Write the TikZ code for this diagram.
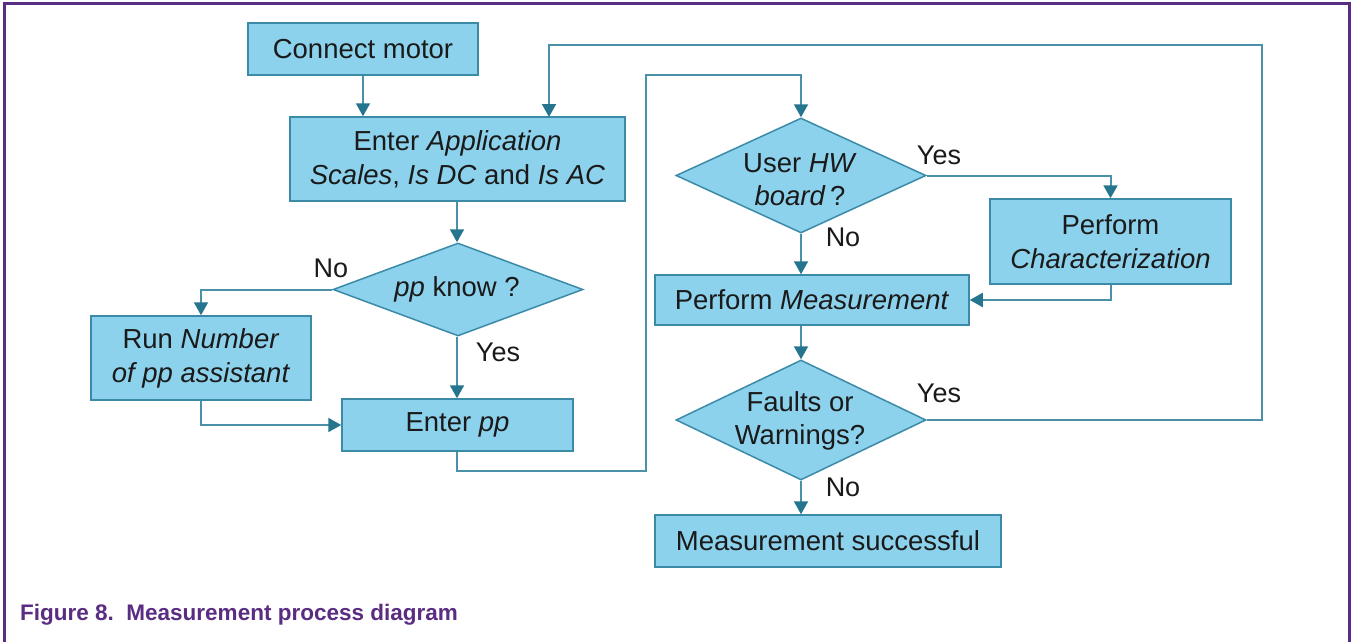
\documentclass[tikz,border=0pt]{standalone}
\usepackage{fontspec}
\setmainfont{Liberation Sans}
\usetikzlibrary{arrows.meta,shapes.geometric}
\definecolor{boxfill}{HTML}{8DD2EC}
\definecolor{boxline}{HTML}{3B8BA8}
\definecolor{connline}{HTML}{4A90A8}
\definecolor{tipcol}{HTML}{26758F}
\definecolor{frame}{HTML}{5A2D82}
\definecolor{txt}{HTML}{1A1A1A}
\tikzset{
  box/.style={draw=boxline, fill=boxfill, line width=1.5pt, rectangle, inner sep=0pt,
    align=center, text=txt, font=\fontsize{27.5}{34}\selectfont},
  dec/.style={draw=boxline, fill=boxfill, line width=1.5pt, diamond, inner sep=0pt},
  dectext/.style={align=center, text=txt, inner sep=0pt, font=\fontsize{27.5}{33}\selectfont},
  lbl/.style={text=txt, inner sep=0pt, font=\fontsize{27}{32}\selectfont},
  conn/.style={draw=connline, line width=2pt,
    -{Triangle[width=14pt,length=13pt,color=tipcol]}},
}
\begin{document}
\begin{tikzpicture}[x=1pt,y=-1pt]
\useasboundingbox (0,0) rectangle (1352,642);
\fill[white] (0,0) rectangle (1352,642);
\draw[frame, line width=3pt] (4,642) -- (4,4) -- (1349,4) -- (1349,642);

% boxes
\node[box, minimum width=230, minimum height=52] (cm) at (363,49) {Connect motor};
\node[box, minimum width=335, minimum height=84] (eas) at (457.5,159) {Enter \textit{Application}\\\textit{Scales}, \textit{Is DC} and \textit{Is AC}};
\node[box, minimum width=220, minimum height=84] (run) at (201,358) {Run \textit{Number}\\\textit{of pp assistant}};
\node[box, minimum width=231, minimum height=52] (epp) at (457.5,425) {Enter \textit{pp}};
\node[box, minimum width=241, minimum height=85] (pc) at (1110.5,241.5) {Perform\\\textit{Characterization}};
\node[box, minimum width=314, minimum height=50] (pm) at (812,300) {Perform \textit{Measurement}};
\node[box, minimum width=346, minimum height=52] (ms) at (828,541) {Measurement successful};

% decisions
\node[dec, minimum width=250, minimum height=93] (dpp) at (458,289.5) {};
\node[dectext] (dppt) at (457,289) {\textit{pp} know ?};
\node[dec, minimum width=250, minimum height=115] (dhw) at (801,175.5) {};
\node[dectext] (dhwt) at (800,180) {User \textit{HW}\\\textit{board}\,?};
\node[dec, minimum width=250, minimum height=120] (dfw) at (801,420) {};
\node[dectext] (dfwt) at (800,421) {Faults or\\Warnings?};

% labels
\node[lbl] (l1) at (331,268) {No};
\node[lbl] (l2) at (498,352) {Yes};
\node[lbl] (l3) at (939,155) {Yes};
\node[lbl] (l4) at (843,237) {No};
\node[lbl] (l5) at (939,393) {Yes};
\node[lbl] (l6) at (843,487) {No};

% bend coordinates
\coordinate (b1) at (646,471);
\coordinate (b2) at (646,75);
\coordinate (r1) at (1262,45);
\coordinate (r2) at (549,117);

% connectors
\draw[conn] (cm.south) -- (cm.south |- eas.north);
\draw[conn] (eas.south -| dppt) -- (dpp.north -| dppt);
\draw[conn] (dpp.west) -| (run.north);
\draw[conn] (dpp.south -| dppt) -- (epp.north -| dppt);
\draw[conn] (run.south) |- (epp.west);
\draw[conn] (epp.south -| dppt) |- (b1) -- (b2) -| (dhw.north);
\draw[conn] (dhw.east) -| (pc.north);
\draw[conn] (dhw.south) -- (dhw.south |- pm.north);
\draw[conn] (pc.south) |- (pm.east);
\draw[conn] (dfw.north |- pm.south) -- (dfw.north);
\draw[conn] (dfw.east) -| (r1) -| (r2);
\draw[conn] (dfw.south) -- (dfw.south |- ms.north);

% caption
\node[anchor=west, inner sep=0pt, text=frame, font=\fontsize{22.5}{26}\selectfont\bfseries] (cap) at (20,615) {Figure 8.\ \ Measurement process diagram};
\end{tikzpicture}
\end{document}
